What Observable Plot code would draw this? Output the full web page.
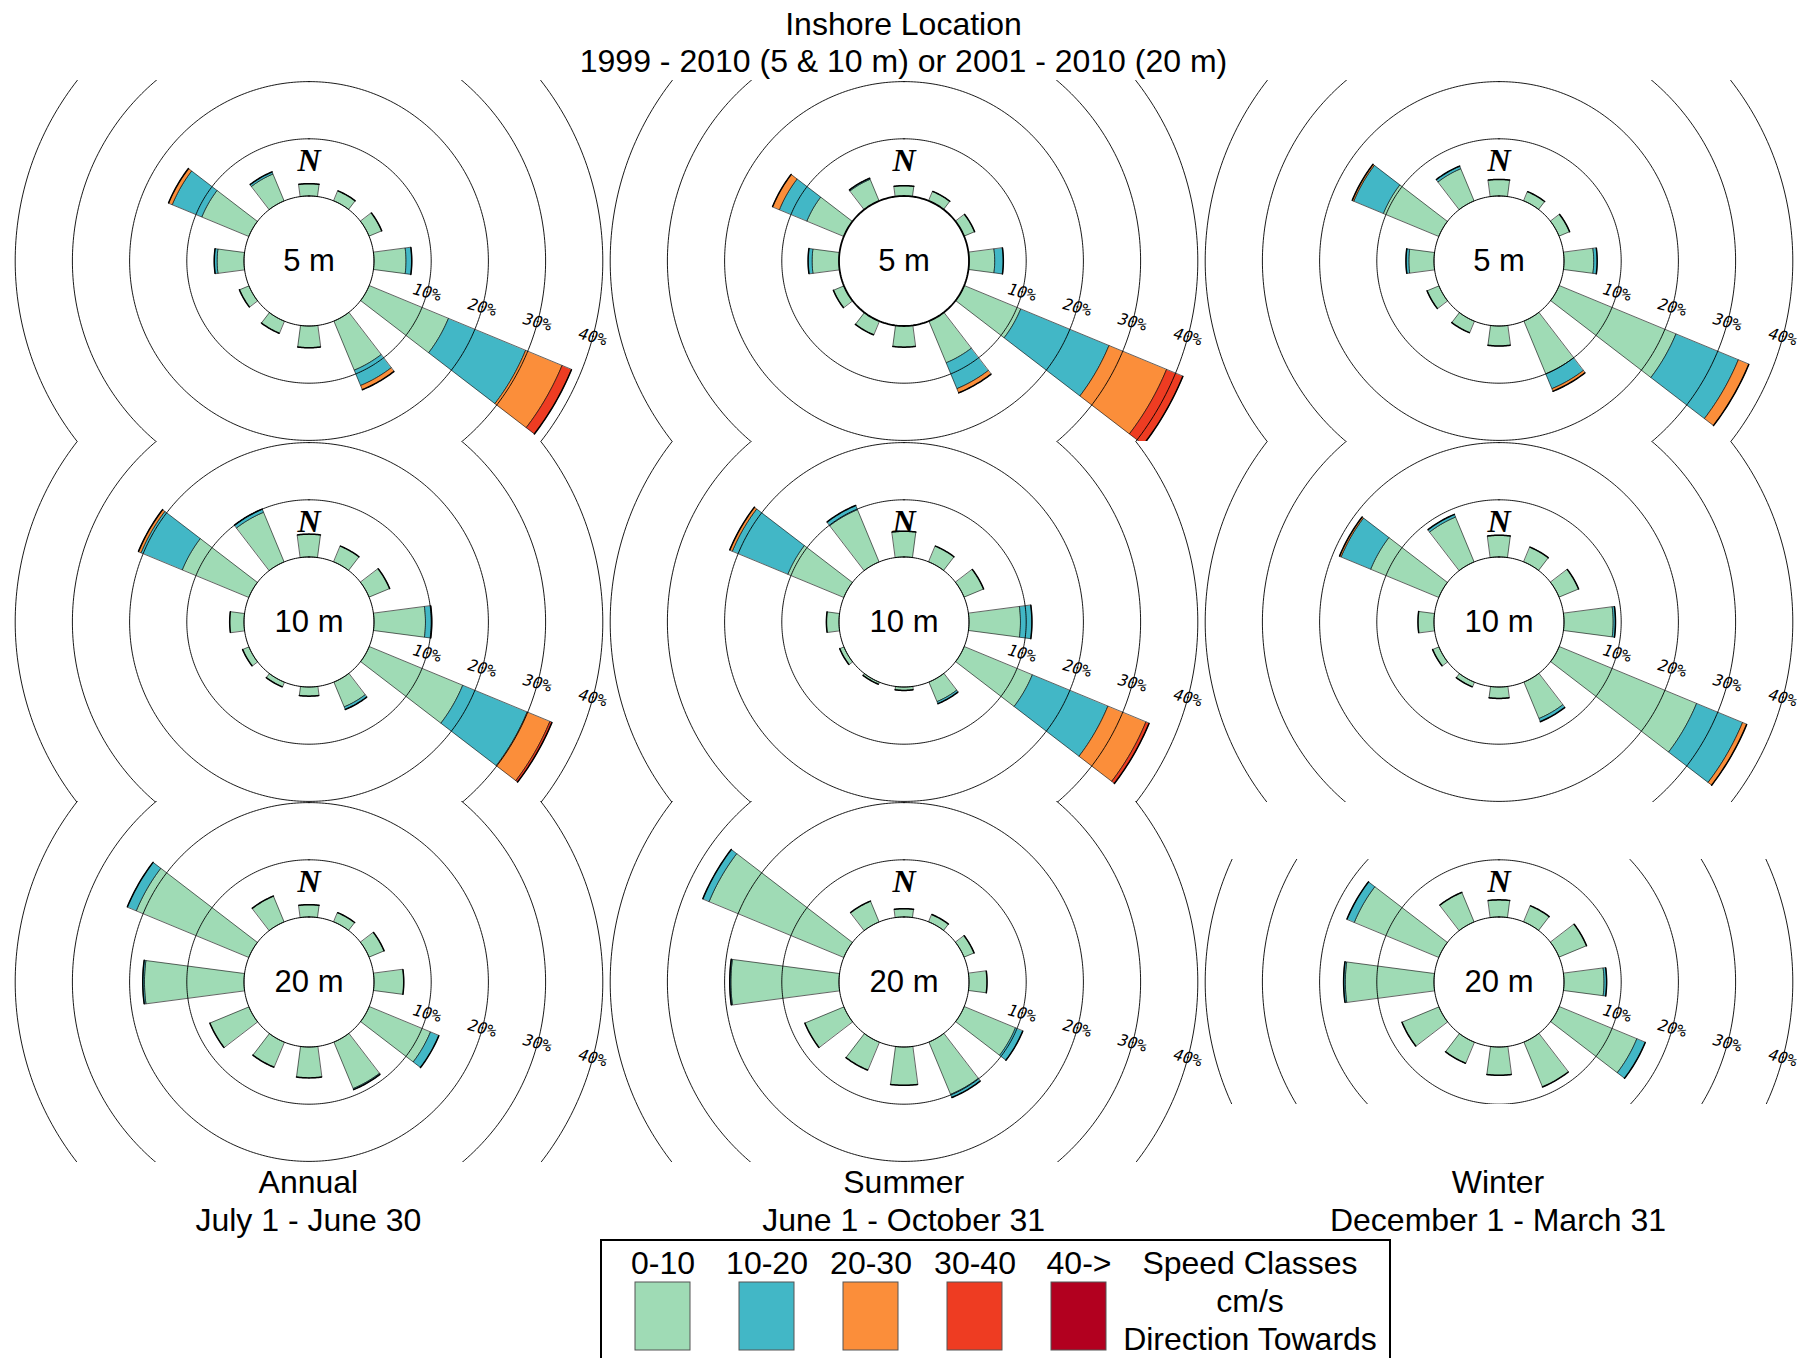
<!DOCTYPE html>
<html><head><meta charset="utf-8">
<script src="https://cdn.jsdelivr.net/npm/d3@7"></script>
<script src="https://cdn.jsdelivr.net/npm/@observablehq/plot@0.6"></script>
<style>
body{margin:0;background:#fff;}
#page{position:relative;width:1807px;height:1358px;overflow:hidden;font-family:"Liberation Sans",Arial,sans-serif;color:#000;background:#fff;}
.t{position:absolute;font-size:32px;line-height:1;white-space:nowrap;transform:translateX(-50%);}
.cell{position:absolute;}
#legbox{position:absolute;left:600px;top:1239px;width:787px;height:200px;border:2px solid #000;}
</style></head><body><div id="page"></div>
<script>
// ---------------- data ----------------
const directions = [0, 30, 60, 90, 120, 150, 180, 210, 240, 270, 300, 330];
const speedClasses = ["0-10", "10-20", "20-30", "30-40", "40->"];
const speedColors = ["#9fdbb5", "#42b7c6", "#fb8e3a", "#ee3c22", "#b2001f"];
const ringTicks = [10, 20, 30, 40];
const seasons = ["Annual", "Summer", "Winter"];
const seasonDates = ["July 1 - June 30", "June 1 - October 31", "December 1 - March 31"];
const depths = ["5 m", "10 m", "20 m"];
const titleLines = ["Inshore Location", "1999 - 2010 (5 & 10 m) or 2001 - 2010 (20 m)"];
const legendNotes = ["Speed Classes", "cm/s", "Direction Towards"];

// percent of time per direction (rows follow `directions`), columns follow `speedClasses`
const annual5m = [
  [2.15,0,0,0,0],[1.9,0,0,0,0],[2.4,0,0,0,0],[5.6,1.0,0,0,0],
  [15.0,14.6,6.9,1.8,0],[9.3,2.9,0.8,0,0],[3.8,0,0,0,0],[2.3,0,0,0,0],
  [1.8,0,0,0,0],[4.7,0.5,0,0,0],[8.9,5.6,0.7,0,0],[5.1,0.4,0,0,0]];
const summer5m = [
  [1.8,0,0,0,0],[1.8,0,0,0,0],[2.0,0,0,0,0],[4.5,1.5,0,0,0],
  [10.7,16.7,10.9,3.1,0],[7.9,4.9,0.8,0,0],[3.7,0,0,0,0],[2.6,0,0,0,0],
  [2.0,0,0,0,0],[4.7,0.7,0,0,0],[7.0,5.2,1.3,0,0],[4.1,0.2,0,0,0]];
const winter5m = [
  [2.9,0,0,0,0],[1.75,0,0,0,0],[2.0,0,0,0,0],[5.2,0.6,0,0,0],
  [22.1,11.8,2.0,0,0],[10.0,2.8,0.5,0,0],[3.5,0,0,0,0],[2.2,0,0,0,0],
  [2.25,0,0,0,0],[4.4,0.5,0,0,0],[10.5,5.6,0.3,0,0],[6.1,0.5,0,0,0]];
const annual10m = [
  [4.0,0,0,0,0],[3.0,0,0,0,0],[3.9,0,0,0,0],[9.0,1.1,0,0,0],
  [17.7,12.2,4.3,0.4,0],[4.7,0.5,0,0,0],[1.6,0,0,0,0],[0.9,0,0,0,0],
  [1.2,0,0,0,0],[2.5,0,0,0,0],[12.6,7.8,0.5,0,0],[9.4,0.6,0,0,0]];
const summer10m = [
  [4.5,0,0,0,0],[3.0,0,0,0,0],[3.7,0,0,0,0],[9.0,2.0,0,0,0],
  [12.9,14.3,7.2,0.6,0],[3.7,0.4,0,0,0],[0.6,0,0,0,0],[0.4,0,0,0,0],
  [0.8,0,0,0,0],[2.2,0,0,0,0],[10.6,10.5,0.5,0,0],[9.9,0.8,0,0,0]];
const winter10m = [
  [3.8,0,0,0,0],[2.8,0,0,0,0],[3.7,0,0,0,0],[8.6,0.4,0,0,0],
  [26.0,8.7,0.8,0,0],[6.9,0.6,0,0,0],[2.0,0,0,0,0],[0.9,0,0,0,0],
  [1.2,0,0,0,0],[2.8,0,0,0,0],[12.9,5.6,0.3,0,0],[8.5,0.5,0,0,0]];
const annual20m = [
  [2.15,0,0,0,0],[1.75,0,0,0,0],[2.85,0,0,0,0],[5.2,0,0,0,0],
  [11.6,1.6,0,0,0],[8.8,0.2,0,0,0],[5.4,0,0,0,0],[4.75,0,0,0,0],
  [7.4,0,0,0,0],[17.4,0.3,0,0,0],[21.3,1.7,0,0,0],[4.9,0,0,0,0]];
const summer20m = [
  [1.45,0,0,0,0],[1.4,0,0,0,0],[1.9,0,0,0,0],[3.15,0,0,0,0],
  [9.7,1.4,0,0,0],[9.9,0.6,0,0,0],[6.7,0,0,0,0],[5.3,0,0,0,0],
  [7.4,0,0,0,0],[18.9,0.2,0,0,0],[25.5,1.2,0,0,0],[3.95,0,0,0,0]];
const winter20m = [
  [3.0,0,0,0,0],[3.05,0,0,0,0],[5.2,0,0,0,0],[7.0,0.45,0,0,0],
  [14.7,1.6,0,0,0],[8.5,0,0,0,0],[4.95,0,0,0,0],[4.0,0,0,0,0],
  [7.0,0,0,0,0],[15.5,0.3,0,0,0],[16.0,1.4,0,0,0],[5.6,0,0,0,0]];

const panelData = [
  [annual5m, summer5m, winter5m],
  [annual10m, summer10m, winter10m],
  [annual20m, summer20m, winter20m]];

// ---------------- layout ----------------
const PX = 5.72;            // pixels per percent
const HOLE = 65 / PX;       // inner empty circle, in percent units
const HALF = 7.5;           // half wedge width (degrees)
const LABEL_BEARING = 105;
const colCenters = [308.4, 903.7, 1498];
const rowCenters = [260.3, 621, 981.7];
const CELL_W = 595, CELL_H = 361;

const page = document.getElementById("page");

function polar(theta, r) {
  const a = theta * Math.PI / 180;
  return [r * Math.sin(a), r * Math.cos(a)];
}
function arc(theta0, theta1, r, n) {
  const out = [];
  for (let k = 0; k <= n; k++) {
    const a = theta0 + (theta1 - theta0) * k / n;
    out.push(polar(a, r));
  }
  return out;
}

function rose(values, depthLabel, W, H, hubWidth) {
  const segs = [];
  const tips = [];
  directions.forEach((dir, i) => {
    let cum = 0;
    values[i].forEach((v, ci) => {
      if (v <= 0) return;
      const r0 = HOLE + cum, r1 = HOLE + cum + v;
      const id = dir + "-" + ci;
      const pts = arc(dir - HALF, dir + HALF, r0, 16).concat(arc(dir + HALF, dir - HALF, r1, 16));
      pts.forEach(([x, y]) => segs.push({x, y, id, cls: speedClasses[ci]}));
      cum += v;
    });
    arc(dir - HALF, dir + HALF, HOLE + cum, 16).forEach(([x, y]) => tips.push({x, y, id: dir}));
  });
  const rings = [];
  ringTicks.forEach(p => arc(0, 360, HOLE + p, 360).forEach(([x, y]) => rings.push({x, y, p})));
  const hub = arc(0, 360, HOLE, 180).map(([x, y]) => ({x, y}));
  const labels = ringTicks.map(p => {
    const [x, y] = polar(LABEL_BEARING, HOLE + p);
    return {x, y, text: p + "%"};
  });
  const hx = W / 2 / PX, hy = H / 2 / PX;
  return Plot.plot({
    width: W, height: H, margin: 0,
    style: {overflow: "visible", background: "transparent"},
    x: {domain: [-hx, hx], axis: null},
    y: {domain: [-hy, hy], axis: null},
    color: {domain: speedClasses, range: speedColors},
    marks: [
      Plot.line(segs, {x: "x", y: "y", z: "id", fill: "cls", stroke: "#000", strokeWidth: 0.6, curve: "linear-closed", clip: true}),
      Plot.line(rings, {x: "x", y: "y", z: "p", stroke: "#000", strokeWidth: 0.9, curve: "linear-closed", clip: true}),
      Plot.line(hub, {x: "x", y: "y", stroke: "#000", strokeWidth: hubWidth, curve: "linear-closed"}),
      Plot.line(tips, {x: "x", y: "y", z: "id", stroke: "#000", strokeWidth: 1.5, clip: true}),
      Plot.text(labels, {x: "x", y: "y", text: "text", rotate: LABEL_BEARING - 90, fontSize: 16,
        fontFamily: "DejaVu Sans Mono", fontStyle: "oblique", fill: "#000"}),
      Plot.text([{x: 0, y: 17.6}], {x: "x", y: "y", text: () => "N", fontSize: 32,
        fontFamily: "Liberation Serif", fontWeight: "bold", fontStyle: "italic", fill: "#000"}),
      Plot.text([{x: 0, y: 0}], {x: "x", y: "y", text: () => depthLabel, fontSize: 31,
        fontFamily: "Liberation Sans", fill: "#000"})
    ]
  });
}

// title
titleLines.forEach((s, i) => {
  const d = document.createElement("div");
  d.className = "t"; d.textContent = s;
  d.style.left = "903.5px"; d.style.top = (8 + i * 37) + "px";
  page.appendChild(d);
});

// panels
for (let r = 0; r < 3; r++) {
  for (let c = 0; c < 3; c++) {
    const H = (r === 2 && c === 2) ? 245 : CELL_H;
    const svg = rose(panelData[r][c], depths[r], CELL_W, H, (r === 0 && c === 1) ? 1.8 : 1);
    const wrap = document.createElement("div");
    wrap.className = "cell";
    wrap.style.left = (colCenters[c] - CELL_W / 2) + "px";
    wrap.style.top = (rowCenters[r] - H / 2) + "px";
    wrap.style.width = CELL_W + "px"; wrap.style.height = H + "px";
    wrap.appendChild(svg);
    page.appendChild(wrap);
  }
}

// season labels
seasons.forEach((s, c) => {
  [s, seasonDates[c]].forEach((txt, i) => {
    const d = document.createElement("div");
    d.className = "t"; d.textContent = txt;
    d.style.left = colCenters[c] + "px"; d.style.top = (1166 + i * 38) + "px";
    page.appendChild(d);
  });
});

// legend
const box = document.createElement("div"); box.id = "legbox"; page.appendChild(box);
const LEG_W = 523;
const legend = Plot.plot({
  width: LEG_W, height: 118, marginTop: 42, marginBottom: 8, marginLeft: 0, marginRight: 0,
  style: {overflow: "visible", background: "transparent"},
  x: {domain: speedClasses, range: [0, LEG_W], paddingInner: 0.474, paddingOuter: 0.237, axis: null},
  color: {domain: speedClasses, range: speedColors},
  marks: [
    Plot.cell(speedClasses, {x: d => d, fill: d => d, stroke: "#555", strokeWidth: 1}),
    Plot.text(speedClasses, {x: d => d, frameAnchor: "top", lineAnchor: "middle", dy: -19, text: d => d, fontSize: 32,
      fontFamily: "Liberation Sans", fill: "#000"})
  ]
});
const lw = document.createElement("div");
lw.className = "cell"; lw.style.left = "609px"; lw.style.top = "1240px";
lw.appendChild(legend); page.appendChild(lw);
legendNotes.forEach((s, i) => {
  const d = document.createElement("div");
  d.className = "t"; d.textContent = s;
  d.style.left = "1250px"; d.style.top = (1247 + i * 38) + "px";
  page.appendChild(d);
});
</script></body></html>
